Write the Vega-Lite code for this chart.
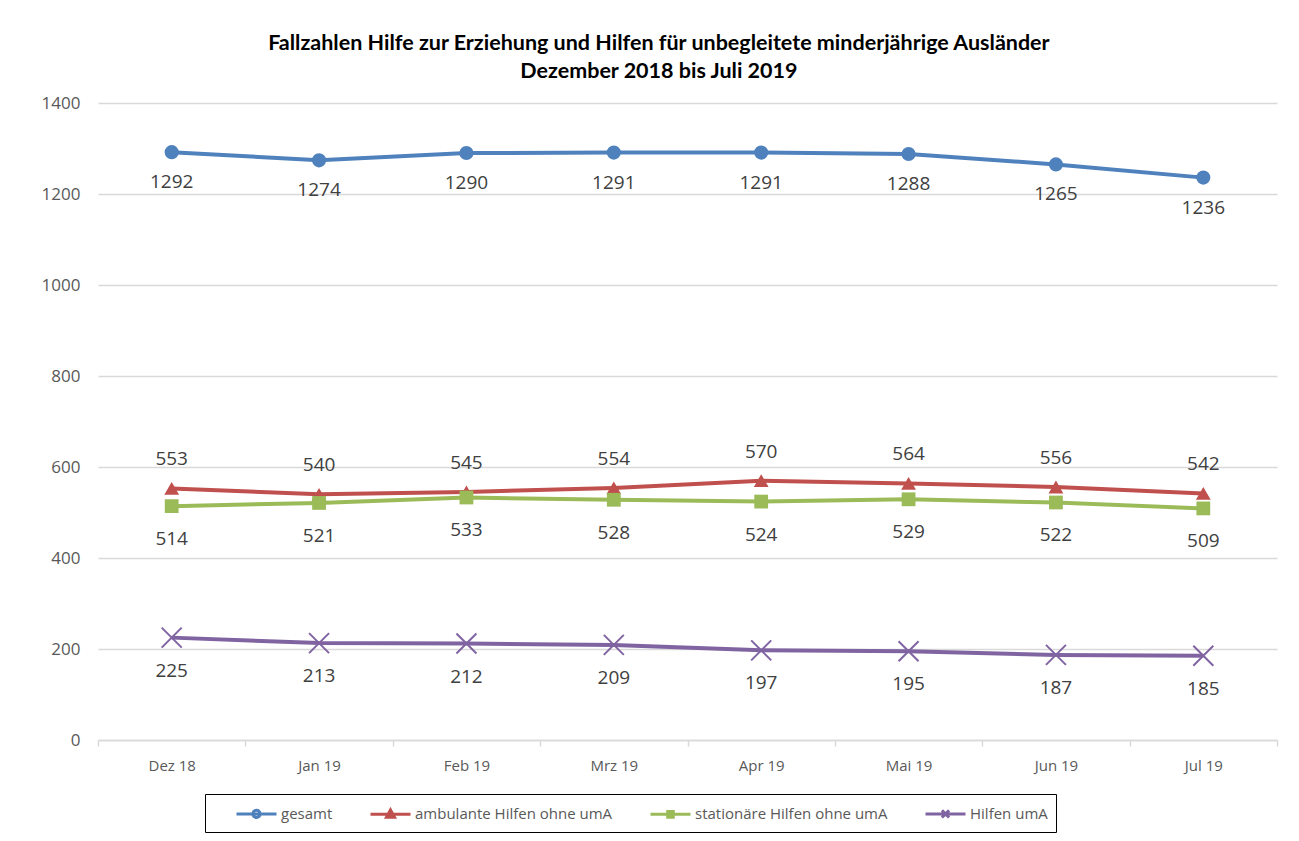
{
  "$schema": "https://vega.github.io/schema/vega-lite/v6.json",
  "width": 1179,
  "height": 637,
  "padding": {"left": 40, "top": 32, "right": 22, "bottom": 70},
  "background": "white",
  "config": {"font": "Open Sans", "view": {"stroke": null}},
  "title": {
    "text": ["Fallzahlen Hilfe zur Erziehung und Hilfen für unbegleitete minderjährige Ausländer", "Dezember 2018 bis Juli 2019"],
    "font": "Lato",
    "fontSize": 21.5,
    "fontWeight": "bold",
    "color": "#000000",
    "lineHeight": 28,
    "anchor": "middle",
    "frame": "bounds",
    "offset": 12
  },
  "data": {
    "values": [
      {"m": "Dez 18", "s": "gesamt", "v": 1292},
      {"m": "Jan 19", "s": "gesamt", "v": 1274},
      {"m": "Feb 19", "s": "gesamt", "v": 1290},
      {"m": "Mrz 19", "s": "gesamt", "v": 1291},
      {"m": "Apr 19", "s": "gesamt", "v": 1291},
      {"m": "Mai 19", "s": "gesamt", "v": 1288},
      {"m": "Jun 19", "s": "gesamt", "v": 1265},
      {"m": "Jul 19", "s": "gesamt", "v": 1236},
      {"m": "Dez 18", "s": "ambulante Hilfen ohne umA", "v": 553},
      {"m": "Jan 19", "s": "ambulante Hilfen ohne umA", "v": 540},
      {"m": "Feb 19", "s": "ambulante Hilfen ohne umA", "v": 545},
      {"m": "Mrz 19", "s": "ambulante Hilfen ohne umA", "v": 554},
      {"m": "Apr 19", "s": "ambulante Hilfen ohne umA", "v": 570},
      {"m": "Mai 19", "s": "ambulante Hilfen ohne umA", "v": 564},
      {"m": "Jun 19", "s": "ambulante Hilfen ohne umA", "v": 556},
      {"m": "Jul 19", "s": "ambulante Hilfen ohne umA", "v": 542},
      {"m": "Dez 18", "s": "stationäre Hilfen ohne umA", "v": 514},
      {"m": "Jan 19", "s": "stationäre Hilfen ohne umA", "v": 521},
      {"m": "Feb 19", "s": "stationäre Hilfen ohne umA", "v": 533},
      {"m": "Mrz 19", "s": "stationäre Hilfen ohne umA", "v": 528},
      {"m": "Apr 19", "s": "stationäre Hilfen ohne umA", "v": 524},
      {"m": "Mai 19", "s": "stationäre Hilfen ohne umA", "v": 529},
      {"m": "Jun 19", "s": "stationäre Hilfen ohne umA", "v": 522},
      {"m": "Jul 19", "s": "stationäre Hilfen ohne umA", "v": 509},
      {"m": "Dez 18", "s": "Hilfen umA", "v": 225},
      {"m": "Jan 19", "s": "Hilfen umA", "v": 213},
      {"m": "Feb 19", "s": "Hilfen umA", "v": 212},
      {"m": "Mrz 19", "s": "Hilfen umA", "v": 209},
      {"m": "Apr 19", "s": "Hilfen umA", "v": 197},
      {"m": "Mai 19", "s": "Hilfen umA", "v": 195},
      {"m": "Jun 19", "s": "Hilfen umA", "v": 187},
      {"m": "Jul 19", "s": "Hilfen umA", "v": 185}
    ]
  },
  "encoding": {
    "x": {
      "field": "m",
      "type": "ordinal",
      "sort": ["Dez 18", "Jan 19", "Feb 19", "Mrz 19", "Apr 19", "Mai 19", "Jun 19", "Jul 19"],
      "bandPosition": 0.5,
      "scale": {"type": "band", "paddingInner": 0, "paddingOuter": 0},
      "axis": {
        "title": null,
        "labelAngle": 0,
        "labelFontSize": 15,
        "labelColor": "#595959",
        "labelPadding": 12,
        "tickBand": "extent",
        "tickSize": 6,
        "tickColor": "#d9d9d9",
        "tickWidth": 1.5,
        "domainColor": "#d9d9d9",
        "domainWidth": 1.5,
        "grid": false
      }
    },
    "y": {
      "field": "v",
      "type": "quantitative",
      "scale": {"domain": [0, 1400], "nice": false},
      "axis": {
        "title": null,
        "values": [0, 200, 400, 600, 800, 1000, 1200, 1400],
        "format": "d",
        "labelFontSize": 17,
        "labelColor": "#595959",
        "labelPadding": 18,
        "ticks": false,
        "domain": false,
        "gridColor": "#d9d9d9",
        "gridWidth": 1.5,
        "minExtent": 58,
        "maxExtent": 58
      }
    }
  },
  "layer": [
    {
      "transform": [{"filter": "datum.s === 'gesamt'"}],
      "layer": [
        {"mark": {"type": "line", "strokeWidth": 4, "color": "#4F81BD"}, "encoding": {}},
        {"mark": {"type": "point", "shape": "circle", "filled": true, "size": 200, "color": "#4F81BD", "opacity": 1}},
        {"mark": {"type": "text", "dy": 30, "fontSize": 19, "color": "#404040"}, "encoding": {"text": {"field": "v", "type": "quantitative"}}}
      ]
    },
    {
      "transform": [{"filter": "datum.s === 'ambulante Hilfen ohne umA'"}],
      "layer": [
        {"mark": {"type": "line", "strokeWidth": 4, "color": "#C0504D"}, "encoding": {}},
        {"mark": {"type": "point", "shape": "triangle-up", "filled": true, "size": 220, "color": "#C0504D", "opacity": 1}},
        {"mark": {"type": "text", "dy": -29, "fontSize": 19, "color": "#404040"}, "encoding": {"text": {"field": "v", "type": "quantitative"}}}
      ]
    },
    {
      "transform": [{"filter": "datum.s === 'stationäre Hilfen ohne umA'"}],
      "layer": [
        {"mark": {"type": "line", "strokeWidth": 4, "color": "#9BBB59"}, "encoding": {}},
        {"mark": {"type": "point", "shape": "square", "filled": true, "size": 190, "color": "#9BBB59", "opacity": 1}},
        {"mark": {"type": "text", "dy": 33, "fontSize": 19, "color": "#404040"}, "encoding": {"text": {"field": "v", "type": "quantitative"}}}
      ]
    },
    {
      "transform": [{"filter": "datum.s === 'Hilfen umA'"}],
      "layer": [
        {"mark": {"type": "line", "strokeWidth": 4, "color": "#8064A2"}, "encoding": {}},
        {"mark": {"type": "point", "shape": "M-1,-1L1,1M-1,1L1,-1", "filled": false, "size": 400, "strokeWidth": 2, "color": "#8064A2", "opacity": 1}},
        {"mark": {"type": "text", "dy": 33, "fontSize": 19, "color": "#404040"}, "encoding": {"text": {"field": "v", "type": "quantitative"}}}
      ]
    },
    {
      "transform": [{"filter": "datum.v < 0"}],
      "mark": {"type": "point", "filled": false, "opacity": 1, "strokeWidth": 3},
      "encoding": {
        "color": {
          "field": "s",
          "type": "nominal",
          "scale": {
            "domain": ["gesamt", "ambulante Hilfen ohne umA", "stationäre Hilfen ohne umA", "Hilfen umA"],
            "range": ["#4F81BD", "#C0504D", "#9BBB59", "#8064A2"]
          },
          "legend": {
            "title": null,
            "orient": "none",
            "legendX": 107,
            "legendY": 691,
            "direction": "horizontal",
            "columns": 4,
            "strokeColor": "#000000",
            "padding": 8,
            "symbolOffset": 32,
            "symbolSize": 400,
            "symbolStrokeWidth": 3,
            "labelFontSize": 15,
            "labelColor": "#595959",
            "labelOffset": 13,
            "labelLimit": 400,
            "columnPadding": 14
          }
        },
        "shape": {
          "field": "s",
          "type": "nominal",
          "scale": {
            "domain": ["gesamt", "ambulante Hilfen ohne umA", "stationäre Hilfen ohne umA", "Hilfen umA"],
            "range": [
              "M-2,0L2,0M-0.36,0A0.36,0.36,0,1,0,0.36,0A0.36,0.36,0,1,0,-0.36,0Z",
              "M-2,0L2,0M0,-0.44L0.4,0.28L-0.4,0.28Z",
              "M-2,0L2,0M-0.28,-0.28L0.28,-0.28L0.28,0.28L-0.28,0.28Z",
              "M-2,0L2,0M-0.36,-0.36L0.36,0.36M-0.36,0.36L0.36,-0.36"
            ]
          }
        }
      }
    }
  ]
}
